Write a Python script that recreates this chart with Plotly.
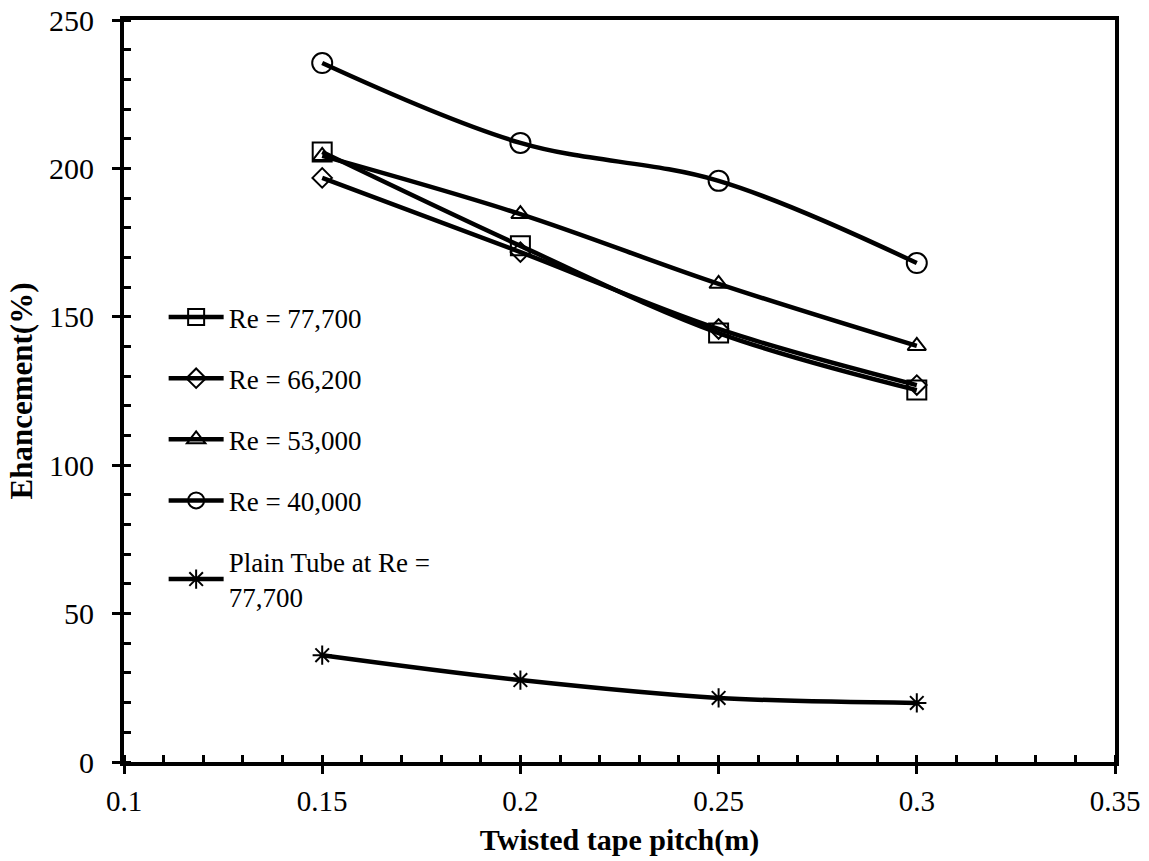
import plotly.graph_objects as go

pitch = [0.15, 0.2, 0.25, 0.3]
re_77700 = [205.5, 173.9, 144.5, 125.3]
re_66200 = [196.8, 171.8, 145.9, 127.0]
re_53000 = [204.2, 184.6, 161.1, 140.2]
re_40000 = [235.5, 208.6, 195.8, 168.1]
plain_77700 = [36.0, 27.6, 21.6, 19.9]

series = [
    ("Re = 77,700", re_77700, "square-open", 19),
    ("Re = 66,200", re_66200, "diamond-open", 15),
    ("Re = 53,000", re_53000, "triangle-up-open", 16),
    ("Re = 40,000", re_40000, "circle-open", 20),
    ("Plain Tube at Re =<br>77,700", plain_77700, "asterisk-open", 16),
]

FONT = "Liberation Serif, Times New Roman, serif"

fig = go.Figure()
for i, (name, vals, sym, sz) in enumerate(series):
    fig.add_trace(go.Scatter(
        x=pitch, y=vals, name=name, mode="lines+markers",
        legendgroup=f"g{i}",
        line=dict(color="black", width=4.5, shape="spline", smoothing=1),
        marker=dict(symbol=sym, size=sz, color="black", line=dict(color="black", width=2)),
    ))

# invisible trace so the overlay axes (inward major ticks) are drawn
fig.add_trace(go.Scatter(x=[0.1], y=[0], xaxis="x2", yaxis="y2", mode="markers",
                         marker=dict(opacity=0), showlegend=False, hoverinfo="skip"))

fig.update_layout(
    width=1149, height=861,
    margin=dict(l=124, r=34, t=20, b=99, autoexpand=False),
    paper_bgcolor="white", plot_bgcolor="white",
    font=dict(family=FONT, size=29, color="black"),
    showlegend=True,
    legend=dict(
        x=0.040, y=0.632, xanchor="left", yanchor="top",
        bgcolor="rgba(0,0,0,0)", borderwidth=0,
        font=dict(family=FONT, size=27, color="black"),
        tracegroupgap=23, itemwidth=55,
    ),
    xaxis=dict(
        range=[0.1, 0.35], dtick=0.05, tick0=0.1, automargin=False,
        showgrid=False, zeroline=False,
        showline=True, linecolor="black", linewidth=4, mirror=True,
        ticks="outside", ticklen=8, tickwidth=3, tickcolor="black",
        minor=dict(dtick=0.01, ticks="inside", ticklen=7, tickwidth=3, tickcolor="black"),
        ticklabelstandoff=2, ticklabeloverflow="allow",
        title=dict(text="<b>Twisted tape pitch(m)</b>", font=dict(family=FONT, size=30), standoff=14),
        tickfont=dict(family=FONT, size=29),
    ),
    yaxis=dict(
        range=[0, 250], dtick=50, automargin=False,
        showgrid=False, zeroline=False,
        showline=True, linecolor="black", linewidth=4, mirror=True,
        ticks="outside", ticklen=8, tickwidth=3, tickcolor="black",
        minor=dict(dtick=10, ticks="inside", ticklen=7, tickwidth=3, tickcolor="black"),
        ticklabelstandoff=12, ticklabeloverflow="allow",
        title=dict(text="<b>Ehancement(%)</b>", font=dict(family=FONT, size=31), standoff=8),
        tickfont=dict(family=FONT, size=30),
    ),
    xaxis2=dict(
        overlaying="x", anchor="y", side="bottom", range=[0.1, 0.35], dtick=0.05, tick0=0.1,
        automargin=False, showgrid=False, zeroline=False, showline=False, showticklabels=False,
        ticks="inside", ticklen=7, tickwidth=3, tickcolor="black",
    ),
    yaxis2=dict(
        overlaying="y", anchor="x", side="left", range=[0, 250], dtick=50,
        automargin=False, showgrid=False, zeroline=False, showline=False, showticklabels=False,
        ticks="inside", ticklen=7, tickwidth=3, tickcolor="black",
    ),
)

fig.write_html(
    "out.html",
    config={"displayModeBar": False},
    post_script="document.body.style.margin='0';document.body.style.overflow='hidden';",
)
